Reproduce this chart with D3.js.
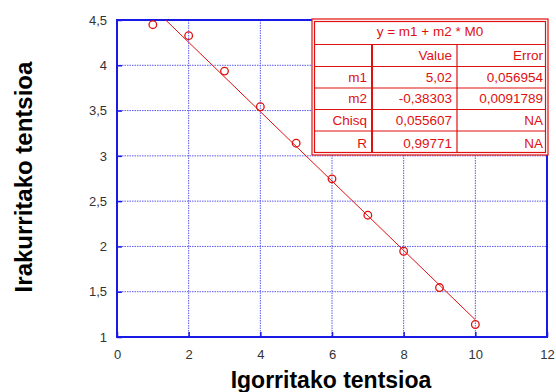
<!DOCTYPE html>
<html>
<head>
<meta charset="utf-8">
<script src="https://cdn.jsdelivr.net/npm/d3@7"></script>
<style>
  html, body { margin: 0; padding: 0; background: #fff; }
  svg { display: block; font-family: Arial, "Liberation Sans", sans-serif; }
</style>
</head>
<body>
<svg id="chart" width="556" height="392"></svg>
<script>
// Measured points
const sentVoltage = [1, 2, 3, 4, 5, 6, 7, 8, 9, 10];
const readVoltage = [4.448, 4.327, 3.936, 3.542, 3.14, 2.746, 2.345, 1.947, 1.546, 1.138];

// Linear fit y = m1 + m2 * M0
const fitM1 = 5.02;
const fitM2 = -0.38303;

const xTicks = [0, 2, 4, 6, 8, 10, 12];
const yTicks = [1, 1.5, 2, 2.5, 3, 3.5, 4, 4.5];

const tableTitle = "y = m1 + m2 * M0";
const tableHeader = ["", "Value", "Error"];
const tableRows = [
  ["m1", "5,02", "0,056954"],
  ["m2", "-0,38303", "0,0091789"],
  ["Chisq", "0,055607", "NA"],
  ["R", "0,99771", "NA"]
];

const fmt = v => String(v).replace(".", ",");

const svg = d3.select("#chart");
const plot = { left: 117, right: 547, top: 20, bottom: 337 };

const x = d3.scaleLinear().domain([0, 12]).range([plot.left, plot.right]);
const y = d3.scaleLinear().domain([1, 4.5]).range([plot.bottom, plot.top]);

const blue = "#1a1ae6";
const red = "#e01010";

// Dotted grid
const grid = svg.append("g");
grid.selectAll("line.gx").data(xTicks.filter(t => t > 0 && t < 12)).join("line")
  .attr("x1", d => x(d)).attr("x2", d => x(d))
  .attr("y1", plot.top).attr("y2", plot.bottom)
  .attr("stroke", "#5a5af0").attr("stroke-width", 1).attr("stroke-dasharray", "1.5,1");
grid.selectAll("line.gy").data(yTicks.filter(t => t > 1 && t < 4.5)).join("line")
  .attr("x1", plot.left).attr("x2", plot.right)
  .attr("y1", d => y(d)).attr("y2", d => y(d))
  .attr("stroke", "#5a5af0").attr("stroke-width", 1).attr("stroke-dasharray", "1.5,1");

// Axes with inward ticks
const xAxis = svg.append("g").attr("transform", `translate(0,${plot.bottom})`)
  .call(d3.axisBottom(x).tickValues(xTicks).tickFormat(fmt).tickSizeInner(-5).tickSizeOuter(0).tickPadding(13));
const yAxis = svg.append("g").attr("transform", `translate(${plot.left},0)`)
  .call(d3.axisLeft(y).tickValues(yTicks).tickFormat(fmt).tickSizeInner(-5).tickSizeOuter(0).tickPadding(10));
[xAxis, yAxis].forEach(a => {
  a.select(".domain").remove();
  a.selectAll(".tick line").attr("stroke", blue).attr("stroke-width", 1.5);
  a.selectAll(".tick text").attr("fill", "#333").style("font-size", "13px")
    .style("font-family", "Arial, 'Liberation Sans', sans-serif");
});

// Frame
svg.append("rect")
  .attr("x", plot.left).attr("y", plot.top)
  .attr("width", plot.right - plot.left).attr("height", plot.bottom - plot.top)
  .attr("fill", "none").attr("stroke", blue).attr("stroke-width", 2);

// Fit line clipped to the plot
svg.append("clipPath").attr("id", "plotClip").append("rect")
  .attr("x", plot.left).attr("y", plot.top)
  .attr("width", plot.right - plot.left).attr("height", plot.bottom - plot.top);
const fitX = d3.extent(sentVoltage);
svg.append("line")
  .attr("clip-path", "url(#plotClip)")
  .attr("x1", x(fitX[0])).attr("y1", y(fitM1 + fitM2 * fitX[0]))
  .attr("x2", x(fitX[1])).attr("y2", y(fitM1 + fitM2 * fitX[1]))
  .attr("stroke", red).attr("stroke-width", 1);

// Markers
svg.append("g").selectAll("circle").data(sentVoltage).join("circle")
  .attr("cx", d => x(d)).attr("cy", (d, i) => y(readVoltage[i]))
  .attr("r", 3.8).attr("fill", "none").attr("stroke", red).attr("stroke-width", 1.3);

// Fit results table
const tb = { left: 312, top: 19, cols: [312, 372, 457, 548], rowH: [25.5, 22, 21.5, 21.5, 21.5, 24] };
const tg = svg.append("g");
const totalH = d3.sum(tb.rowH);
tg.append("rect").attr("x", tb.left).attr("y", tb.top)
  .attr("width", tb.cols[3] - tb.left).attr("height", totalH)
  .attr("fill", "#fff").attr("stroke", red).attr("stroke-width", 1.2);
tg.append("rect").attr("x", tb.left + 2.5).attr("y", tb.top + 2.5)
  .attr("width", tb.cols[3] - tb.left - 5).attr("height", totalH - 5)
  .attr("fill", "none").attr("stroke", red).attr("stroke-width", 1.2);

const rowTops = [tb.top];
tb.rowH.forEach(h => rowTops.push(rowTops[rowTops.length - 1] + h));
// horizontal rules
rowTops.slice(1, -1).forEach(yy => {
  tg.append("line").attr("x1", tb.left + 2.5).attr("x2", tb.cols[3] - 2.5)
    .attr("y1", yy).attr("y2", yy).attr("stroke", red).attr("stroke-width", 1.2);
});
// vertical rules below title
[tb.cols[1], tb.cols[2]].forEach((cx, i) => {
  tg.append("line").attr("x1", cx).attr("x2", cx)
    .attr("y1", rowTops[1]).attr("y2", rowTops[6] - 2.5)
    .attr("stroke", red).attr("stroke-width", i === 0 ? 2 : 1.2);
});

const textStyle = sel => sel.attr("fill", red).style("font-size", "13.5px")
  .style("font-family", "Arial, 'Liberation Sans', sans-serif");
tg.append("text").attr("x", (tb.left + tb.cols[3]) / 2).attr("y", (rowTops[0] + rowTops[1]) / 2 + 4.5)
  .attr("text-anchor", "middle").text(tableTitle).call(textStyle);
[tableHeader, ...tableRows].forEach((row, r) => {
  const cy = (rowTops[r + 1] + rowTops[r + 2]) / 2 + 4.5;
  row.forEach((cell, c) => {
    tg.append("text").attr("x", tb.cols[c + 1] - 5).attr("y", cy)
      .attr("text-anchor", "end").text(cell).call(textStyle);
  });
});

// Axis titles
svg.append("text").attr("x", 331).attr("y", 388).attr("text-anchor", "middle")
  .style("font-size", "23px").style("font-weight", "bold").attr("fill", "#000")
  .text("Igorritako tentsioa");
svg.append("text").attr("transform", "translate(32,177) rotate(-90)").attr("text-anchor", "middle")
  .style("font-size", "24px").style("font-weight", "bold").attr("fill", "#000")
  .text("Irakurritako tentsioa");
</script>
</body>
</html>
